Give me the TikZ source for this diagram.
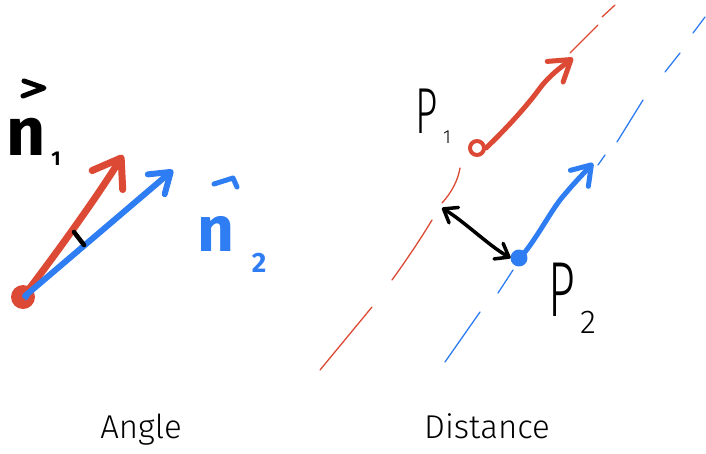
\documentclass[tikz,border=0pt]{standalone}
\usepackage{fontspec}
\setmainfont{Fira Sans}
\newfontfamily\labfont{Fira Sans Light}
\usetikzlibrary{arrows.meta}
\definecolor{hred}{HTML}{DC4A35}
\definecolor{hblue}{HTML}{2F7DF2}
\begin{document}
\begin{tikzpicture}[x=1pt,y=-1pt,line cap=round,line join=round,
  penred/.style={draw=hred,line width=7pt},
  penblue/.style={draw=hblue,line width=6pt},
  dashred/.style={draw=hred,line width=1.3pt},
  dashblue/.style={draw=hblue,line width=1.3pt},
  bigtip/.style={-{Straight Barb[length=26pt,width=36pt,round]}},
  midtip/.style={-{Straight Barb[length=19pt,width=26pt,round]}},
  handbold/.style={inner sep=0pt,font=\bfseries\fontsize{#1}{#1}\selectfont},
  handthin/.style={inner sep=0pt,font=\labfont\fontsize{#1}{#1}\selectfont},
  caption/.style={inner sep=0pt,anchor=base,font=\labfont\fontsize{33}{36}\selectfont}]
\useasboundingbox (0,0) rectangle (706,453);

% ---------------- Angle ----------------
\node[circle,fill=hred,minimum size=24pt,inner sep=0pt] (o) at (23,297) {};
\node[circle,fill=hblue,minimum size=9pt,inner sep=0pt] (ob) at (25,296) {};
\coordinate (rtip) at (123,155);
\coordinate (btip) at (173,170);
\draw[penred,bigtip] (o.center) .. controls (50,262) and (95,200) .. (rtip);
\draw[penblue,midtip] (ob.center) -- (btip);
\coordinate (tickA) at (74,232);
\coordinate (tickB) at (84,245);
\draw[line width=4.5pt] (tickA) -- (tickB);

\node[handbold=68] (n1) at (26,137) {n};
\node[handbold=20] (n1s) at (56,159) {1};
\draw[line width=5pt] (24,81) -- (44,88) -- (23,96);

\node[handbold=64,text=hblue] (n2) at (216,234) {n};
\node[handbold=28,text=hblue] (n2s) at (259,263) {2};
\draw[hblue,line width=5pt] (214,184) -- (233,178) -- (237,187);

\node[caption] (angle) at (141,438) {Angle};

% ---------------- Distance ----------------
% red dashed line
\draw[dashred] (320,370) -- (372,307);
\draw[dashred] (392,280) .. controls (405,262) and (420,240) .. (432,220);
\draw[dashred] (442,203) .. controls (452,192) and (458,180) .. (460,168);
\draw[dashred] (570,53) -- (598,25);
\draw[dashred] (602,17) -- (615,5);
% blue dashed line
\draw[dashblue] (445,362) -- (480,312);
\draw[dashblue] (498,293) -- (513,270);
\draw[dashblue] (598,165) -- (605,155);
\draw[dashblue] (617,142) -- (643,100);
\draw[dashblue] (665,72) -- (680,53);
\draw[dashblue] (693,33) -- (705,17);

\node[circle,draw=hred,line width=4pt,minimum size=14pt,inner sep=0pt] (p1) at (477,148) {};
\node[circle,fill=hblue,draw=hblue,line width=2pt,minimum size=15pt,inner sep=0pt] (p2) at (519,258) {};

\coordinate (p1tip) at (573,58);
\coordinate (p2tip) at (593,163);
\draw[draw=hred,line width=5pt,-{Straight Barb[length=20pt,width=26pt,round]}]
  (p1.east) .. controls (505,130) and (527,106) .. (540,88)
  .. controls (550,75) and (560,68) .. (p1tip);
\draw[draw=hblue,line width=5pt,-{Straight Barb[length=18pt,width=24pt,round]}]
  (p2.north east) .. controls (540,233) and (553,207) .. (565,194)
  .. controls (575,182) and (585,172) .. (p2tip);

\coordinate (dA) at (442,208);
\draw[line width=3.5pt,{Straight Barb[length=12pt,width=18pt,round]}-{Straight Barb[length=12pt,width=18pt,round]}]
  (dA) .. controls (465,222) and (488,245) .. (p2.west);

\node[handthin=65] (P1) at (427,111) {\scalebox{0.6}[1]{P}};
\node[handthin=19] (P1s) at (447,137) {1};
\node[handthin=78] (P2) at (562,290) {\scalebox{0.6}[1]{P}};
\node[handthin=33] (P2s) at (588,322) {2};

\node[caption] (distance) at (487,438) {Distance};
\end{tikzpicture}
\end{document}
